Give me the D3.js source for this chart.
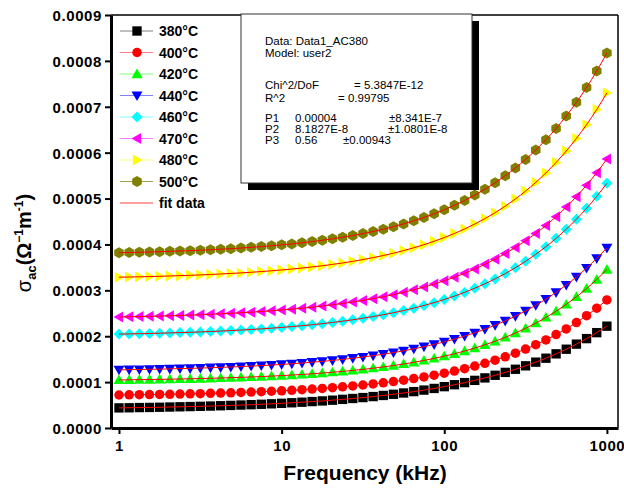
<!DOCTYPE html>
<html>
<head>
<meta charset="utf-8">
<script src="https://cdnjs.cloudflare.com/ajax/libs/d3/7.8.5/d3.min.js"></script>
<style>
  body { margin: 0; background: #fff; }
  svg { font-family: "Liberation Sans", Arial, sans-serif; }
</style>
</head>
<body>
<div id="chart"></div>
<script>
// frequency in kHz, 16 points per decade
const frequency = [1, 1.155, 1.334, 1.540, 1.778, 2.054, 2.371, 2.738, 3.162, 3.652, 4.217, 4.870, 5.623, 6.494, 7.499, 8.660,
  10, 11.55, 13.34, 15.40, 17.78, 20.54, 23.71, 27.38, 31.62, 36.52, 42.17, 48.70, 56.23, 64.94, 74.99, 86.60,
  100, 115.5, 133.4, 154.0, 177.8, 205.4, 237.1, 273.8, 316.2, 365.2, 421.7, 487.0, 562.3, 649.4, 749.9, 866.0, 1000];

// sigma_ac in units of 1e-4 (ohm^-1 m^-1)
const s380 = [0.438, 0.441, 0.445, 0.448, 0.452, 0.457, 0.462, 0.467, 0.472, 0.478, 0.485, 0.492, 0.500, 0.508, 0.517, 0.527,
  0.538, 0.550, 0.562, 0.576, 0.590, 0.606, 0.624, 0.643, 0.663, 0.685, 0.709, 0.735, 0.763, 0.793, 0.826, 0.862,
  0.901, 0.943, 0.989, 1.038, 1.092, 1.149, 1.212, 1.280, 1.355, 1.435, 1.521, 1.616, 1.717, 1.828, 1.948, 2.078, 2.219];
const s400 = [0.719, 0.722, 0.725, 0.728, 0.731, 0.735, 0.740, 0.744, 0.749, 0.755, 0.761, 0.767, 0.775, 0.783, 0.791, 0.801,
  0.811, 0.822, 0.835, 0.848, 0.863, 0.879, 0.897, 0.916, 0.937, 0.960, 0.985, 1.012, 1.043, 1.076, 1.112, 1.151,
  1.194, 1.241, 1.292, 1.349, 1.410, 1.477, 1.551, 1.631, 1.719, 1.815, 1.920, 2.035, 2.160, 2.298, 2.448, 2.612, 2.791];
const s420 = [1.047, 1.050, 1.053, 1.056, 1.060, 1.064, 1.068, 1.073, 1.078, 1.083, 1.090, 1.096, 1.104, 1.112, 1.121, 1.131,
  1.142, 1.154, 1.167, 1.181, 1.197, 1.215, 1.234, 1.255, 1.278, 1.303, 1.331, 1.361, 1.395, 1.431, 1.472, 1.516,
  1.565, 1.618, 1.677, 1.741, 1.812, 1.890, 1.975, 2.069, 2.171, 2.284, 2.408, 2.544, 2.694, 2.858, 3.038, 3.236, 3.453];
const s440 = [1.267, 1.271, 1.274, 1.279, 1.283, 1.288, 1.294, 1.299, 1.306, 1.313, 1.321, 1.329, 1.339, 1.349, 1.360, 1.372,
  1.385, 1.400, 1.415, 1.433, 1.452, 1.472, 1.495, 1.520, 1.547, 1.576, 1.608, 1.644, 1.682, 1.725, 1.771, 1.821,
  1.877, 1.937, 2.003, 2.075, 2.154, 2.240, 2.334, 2.437, 2.550, 2.673, 2.808, 2.955, 3.116, 3.292, 3.485, 3.695, 3.925];
const s460 = [2.046, 2.050, 2.055, 2.060, 2.066, 2.072, 2.079, 2.086, 2.094, 2.103, 2.112, 2.123, 2.134, 2.147, 2.160, 2.175,
  2.192, 2.210, 2.229, 2.251, 2.274, 2.300, 2.328, 2.358, 2.392, 2.428, 2.468, 2.512, 2.559, 2.612, 2.669, 2.731,
  2.799, 2.874, 2.955, 3.045, 3.142, 3.249, 3.365, 3.493, 3.632, 3.784, 3.951, 4.133, 4.332, 4.550, 4.788, 5.048, 5.332];
const s470 = [2.418, 2.423, 2.428, 2.433, 2.439, 2.445, 2.452, 2.460, 2.468, 2.478, 2.488, 2.499, 2.511, 2.524, 2.538, 2.554,
  2.571, 2.590, 2.610, 2.633, 2.657, 2.684, 2.713, 2.745, 2.780, 2.819, 2.860, 2.906, 2.956, 3.011, 3.071, 3.136,
  3.208, 3.286, 3.371, 3.465, 3.567, 3.679, 3.801, 3.934, 4.080, 4.240, 4.414, 4.606, 4.814, 5.042, 5.291, 5.564, 5.862];
const s480 = [3.286, 3.290, 3.295, 3.300, 3.306, 3.313, 3.320, 3.328, 3.336, 3.346, 3.356, 3.368, 3.380, 3.394, 3.409, 3.426,
  3.444, 3.464, 3.486, 3.510, 3.536, 3.565, 3.597, 3.632, 3.671, 3.713, 3.759, 3.810, 3.866, 3.927, 3.995, 4.069,
  4.150, 4.239, 4.337, 4.445, 4.563, 4.692, 4.835, 4.991, 5.163, 5.352, 5.559, 5.786, 6.036, 6.310, 6.611, 6.941, 7.304];
const s500 = [3.819, 3.824, 3.830, 3.835, 3.842, 3.849, 3.857, 3.865, 3.874, 3.885, 3.896, 3.908, 3.922, 3.937, 3.953, 3.971,
  3.991, 4.012, 4.036, 4.062, 4.091, 4.122, 4.157, 4.195, 4.236, 4.282, 4.332, 4.388, 4.448, 4.514, 4.588, 4.668,
  4.756, 4.852, 4.959, 5.075, 5.203, 5.343, 5.498, 5.667, 5.853, 6.058, 6.282, 6.528, 6.799, 7.096, 7.422, 7.780, 8.173];

const seriesNames = ["380°C", "400°C", "420°C", "440°C", "460°C", "470°C", "480°C", "500°C"];
const seriesColors = ["#000000", "#ff0000", "#00ff00", "#0000ff", "#00ffff", "#ff00ff", "#ffff00", "#808000"];
const legendLineColors = ["#808080", "#ff8080", "#80ff80", "#8080ff", "#80ffff", "#ff80ff", "#ffff80", "#a0a050"];
const seriesShapes = ["square", "circle", "up", "down", "diamond", "left", "right", "hexagon"];
const seriesValues = [s380, s400, s420, s440, s460, s470, s480, s500];

const xTicks = [1, 10, 100, 1000];
const yTicks = [0, 0.0001, 0.0002, 0.0003, 0.0004, 0.0005, 0.0006, 0.0007, 0.0008, 0.0009];

const fitInfo = [
  ["Data: Data1_AC380"], ["Model: user2"], [], ["Chi^2/DoF", "= 5.3847E-12"], ["R^2", "=  0.99795"], [],
  ["P1", "0.00004", "±8.341E-7"], ["P2", "8.1827E-8", "±1.0801E-8"], ["P3", "0.56", "±0.00943"]
];

const W = 624, H = 491;
const margin = { top: 15, right: 6, bottom: 63, left: 111 };

const svg = d3.select("#chart").append("svg")
  .attr("width", W).attr("height", H);

const x = d3.scaleLog().domain([0.893, 1170]).range([margin.left, W - margin.right]);
const y = d3.scaleLinear().domain([0, 0.0009]).range([H - margin.bottom, margin.top]);

// marker paths centred on 0,0
function shapePath(type, s) {
  const h = s / 2;
  switch (type) {
    case "square": return `M${-h * 0.85},${-h * 0.85}H${h * 0.85}V${h * 0.85}H${-h * 0.85}Z`;
    case "circle": return d3.symbol(d3.symbolCircle, Math.PI * h * h)();
    case "up": return `M0,${-h}L${h},${h * 0.75}L${-h},${h * 0.75}Z`;
    case "down": return `M0,${h}L${h},${-h * 0.75}L${-h},${-h * 0.75}Z`;
    case "left": return `M${-h},0L${h * 0.75},${-h}L${h * 0.75},${h}Z`;
    case "right": return `M${h},0L${-h * 0.75},${-h}L${-h * 0.75},${h}Z`;
    case "diamond": return `M0,${-h}L${h},0L0,${h}L${-h},0Z`;
    case "hexagon": {
      const pts = d3.range(6).map(i => {
        const a = Math.PI / 6 + i * Math.PI / 3;
        return [h * Math.cos(a), h * Math.sin(a)];
      });
      return "M" + pts.join("L") + "Z";
    }
  }
}

const plot = svg.append("g");

// markers
seriesValues.forEach((vals, si) => {
  plot.append("g").selectAll("path")
    .data(vals.map((v, i) => [frequency[i], v * 1e-4]))
    .enter().append("path")
    .attr("transform", d => `translate(${x(d[0])},${y(d[1])})`)
    .attr("d", shapePath(seriesShapes[si], si === 1 ? 9.5 : 11))
    .attr("fill", seriesColors[si]);
});

// fit curves
const fitLine = d3.line()
  .x(d => x(d[0])).y(d => y(d[1]))
  .curve(d3.curveMonotoneX);
seriesValues.forEach(vals => {
  plot.append("path")
    .datum(vals.map((v, i) => [frequency[i], v * 1e-4]))
    .attr("d", fitLine)
    .attr("fill", "none")
    .attr("stroke", "#ff0000")
    .attr("stroke-width", 1);
});

// frame
svg.append("line").attr("x1", margin.left).attr("x2", W - margin.right)
  .attr("y1", margin.top).attr("y2", margin.top)
  .attr("stroke", "#000").attr("stroke-width", 1.5);
svg.append("line").attr("x1", W - margin.right).attr("x2", W - margin.right)
  .attr("y1", margin.top).attr("y2", H - margin.bottom)
  .attr("stroke", "#000").attr("stroke-width", 1.5);

// axes
const xAxis = svg.append("g")
  .attr("transform", `translate(0,${H - margin.bottom})`)
  .call(d3.axisBottom(x).tickValues(xTicks).tickFormat(d3.format("d")).tickSize(6).tickSizeOuter(0));
const yAxis = svg.append("g")
  .attr("transform", `translate(${margin.left},0)`)
  .call(d3.axisLeft(y).tickValues(yTicks).tickFormat(d3.format(".4f")).tickSize(6).tickSizeOuter(0));

[xAxis, yAxis].forEach(ax => {
  ax.select(".domain").attr("stroke", "#000").attr("stroke-width", 3);
  ax.selectAll(".tick line").attr("stroke", "#000").attr("stroke-width", 2);
  ax.selectAll(".tick text")
    .attr("fill", "#000")
    .style("font-size", "15px")
    .style("font-weight", "bold")
    .style("letter-spacing", "0.6px")
    .style("font-family", "'Liberation Sans', Arial, sans-serif");
});
xAxis.selectAll(".tick text").attr("dy", "0.95em");
yAxis.selectAll(".tick text").attr("x", -9).attr("dy", "0.36em");

// axis titles
svg.append("text")
  .attr("x", 365).attr("y", 480)
  .attr("text-anchor", "middle")
  .style("font-size", "21px").style("font-weight", "bold")
  .text("Frequency (kHz)");

const yTitle = svg.append("text")
  .attr("transform", "translate(31,243) rotate(-90)")
  .attr("text-anchor", "middle")
  .style("font-size", "20px").style("font-weight", "bold");
yTitle.append("tspan").style("font-weight", "normal").text("σ");
yTitle.append("tspan").attr("dy", 5).style("font-size", "13px").text("ac");
yTitle.append("tspan").attr("dy", -5).text("(Ω");
yTitle.append("tspan").attr("dy", -8).style("font-size", "12px").text("−1");
yTitle.append("tspan").attr("dy", 8).text("m");
yTitle.append("tspan").attr("dy", -8).style("font-size", "12px").text("-1");
yTitle.append("tspan").attr("dy", 8).text(")");

// legend
const legend = svg.append("g");
const legendRows = seriesNames.map((n, i) => ({ name: n, i }));
legendRows.push({ name: "fit data", i: -1 });
legendRows.forEach((r, k) => {
  const cy = 31 + k * 21.5;
  legend.append("line").attr("x1", 120).attr("x2", 153).attr("y1", cy).attr("y2", cy)
    .attr("stroke", r.i < 0 ? "#ff4040" : legendLineColors[r.i]).attr("stroke-width", 1);
  if (r.i >= 0) {
    legend.append("path")
      .attr("transform", `translate(137,${cy})`)
      .attr("d", shapePath(seriesShapes[r.i], r.i === 1 ? 9.5 : 11))
      .attr("fill", seriesColors[r.i]);
  }
  legend.append("text").attr("x", 159).attr("y", cy).attr("dy", "0.36em")
    .style("font-size", "14px").style("font-weight", "bold")
    .text(r.name);
});

// fit result box
const box = svg.append("g");
box.append("rect").attr("x", 248).attr("y", 21).attr("width", 231).attr("height", 169).attr("fill", "#000");
box.append("rect").attr("x", 241).attr("y", 14).attr("width", 231).attr("height", 169)
  .attr("fill", "#fff").attr("stroke", "#333").attr("stroke-width", 1);
const rowY = [41, 53, 0, 85, 98, 0, 118, 129, 140];
const colX = {
  3: [265, 354], 4: [265, 338], 6: [265, 295, 389], 7: [265, 295, 388], 8: [265, 295, 343]
};
fitInfo.forEach((row, r) => {
  row.forEach((cell, c) => {
    const cx = colX[r] ? colX[r][c] : 265;
    box.append("text").attr("x", cx).attr("y", rowY[r]).attr("dy", "0.36em")
      .style("font-size", "11.5px").text(cell);
  });
});
</script>
</body>
</html>
